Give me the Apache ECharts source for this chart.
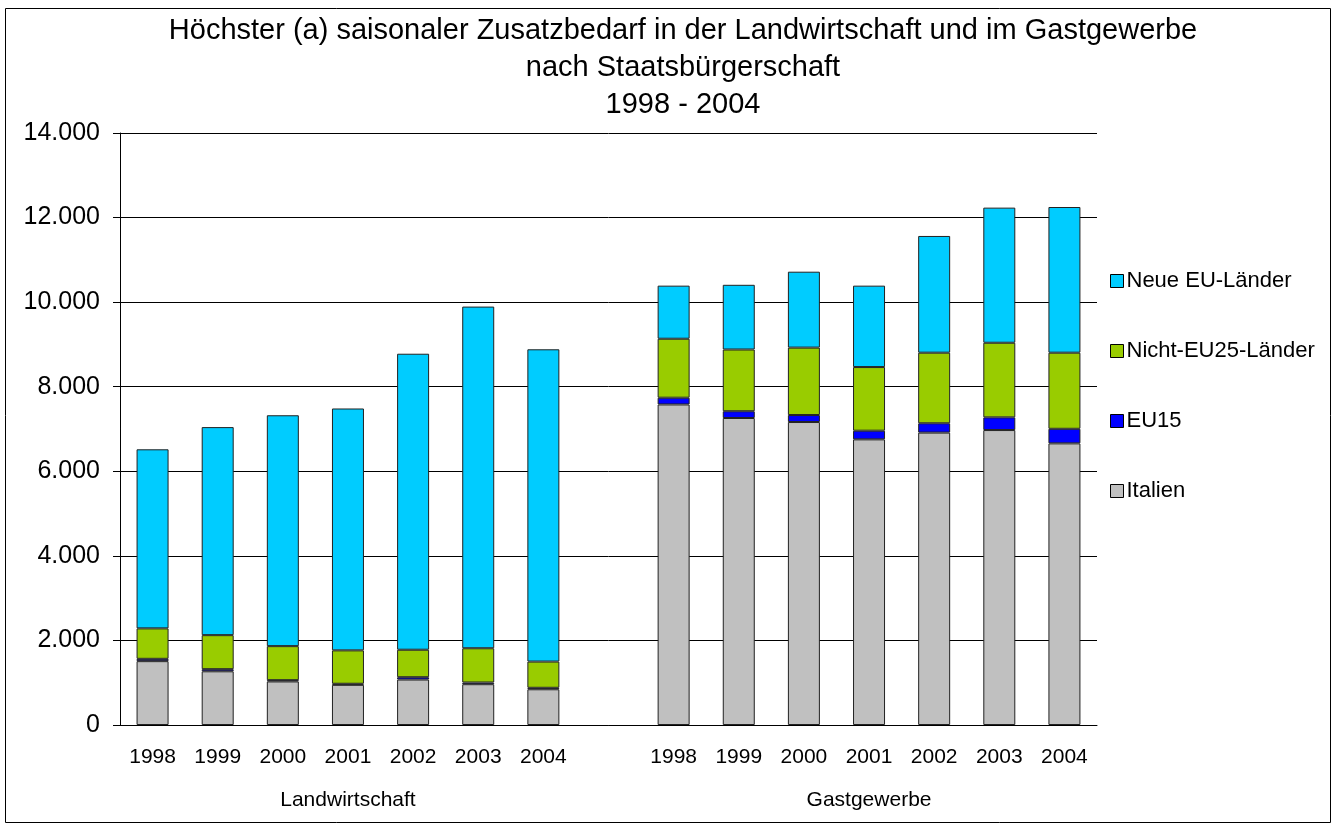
<!DOCTYPE html>
<html>
<head>
<meta charset="utf-8">
<script src="https://cdn.jsdelivr.net/npm/echarts@6/dist/echarts.min.js"></script>
<style>
html,body{margin:0;padding:0;background:#fff;}
#chart{width:1333px;height:825px;}
</style>
</head>
<body>
<div id="chart"></div>
<script>
var years = ['1998','1999','2000','2001','2002','2003','2004'];
var groups = ['Landwirtschaft','Gastgewerbe'];
var seriesNames = ['Italien','EU15','Nicht-EU25-Länder','Neue EU-Länder'];
var yTicks = [0,2000,4000,6000,8000,10000,12000,14000];

// Landwirtschaft
var landItalien = [1510,1270,1030,950,1075,965,845];
var landEU15    = [55,50,30,25,55,40,35];
var landNichtEU = [720,805,805,790,650,810,620];
var landNeueEU  = [4235,4920,5460,5720,7000,8080,7385];
// Gastgewerbe
var gastItalien = [7580,7260,7165,6755,6915,6975,6660];
var gastEU15    = [160,160,165,205,220,300,345];
var gastNichtEU = [1395,1460,1595,1505,1670,1765,1800];
var gastNeueEU  = [1255,1530,1795,1925,2760,3195,3445];

var colors = ['#C0C0C0','#0000FF','#99CC00','#00CCFF'];

var cats = years.concat(['']).concat(years);
var groupCats = cats.map(function(c,i){ return i===3 ? groups[0] : (i===11 ? groups[1] : ''); });
function join(a,b){ return a.concat(['-']).concat(b); }
var data = [
  join(landItalien,gastItalien),
  join(landEU15,gastEU15),
  join(landNichtEU,gastNichtEU),
  join(landNeueEU,gastNeueEU)
];

var font = 'Liberation Sans, Arial, sans-serif';
var chart = echarts.init(document.getElementById('chart'));
chart.setOption({
  animation:false,
  backgroundColor:'#fff',
  textStyle:{fontFamily:font,color:'#000'},
  title:{
    text:'Höchster (a) saisonaler Zusatzbedarf in der Landwirtschaft und im Gastgewerbe\nnach Staatsbürgerschaft\n1998 - 2004',
    left:678, top:7, textAlign:'center',
    textStyle:{fontFamily:font,fontSize:29,fontWeight:'normal',color:'#000',lineHeight:37}
  },
  graphic:[{type:'rect',shape:{x:5.5,y:8.5,width:1325,height:814},style:{fill:null,stroke:'#000',lineWidth:1},silent:true}],
  legend:{
    orient:'vertical', left:1110, top:270, padding:0, itemWidth:13, itemHeight:13, itemGap:48,
    data:['Neue EU-Länder','Nicht-EU25-Länder','EU15','Italien'],
    textStyle:{fontFamily:font,fontSize:22,color:'#000',lineHeight:22,padding:[0,0,0,-2]},
    icon:'rect',
    itemStyle:{borderColor:'#000',borderWidth:1}
  },
  grid:{left:120,right:236,top:133,bottom:100,containLabel:false},
  xAxis:[{
    type:'category', data:cats, position:'bottom',
    axisLine:{lineStyle:{color:'#000',width:1}},
    axisTick:{show:false},
    axisLabel:{interval:0,fontFamily:font,fontSize:21,color:'#000',margin:22}
  },{
    type:'category', data:groupCats, position:'bottom',
    axisLine:{show:false}, axisTick:{show:false},
    axisLabel:{interval:0,fontFamily:font,fontSize:21,color:'#000',margin:65}
  }],
  yAxis:{
    type:'value', min:0, max:14000, interval:2000,
    axisLine:{show:true,lineStyle:{color:'#000',width:1}},
    axisTick:{show:true,length:7,lineStyle:{color:'#000'}},
    splitLine:{show:true,lineStyle:{color:'#000',width:1}},
    axisLabel:{fontFamily:font,fontSize:25,color:'#000',margin:20,
      formatter:function(v){ return String(v).replace(/\B(?=(\d{3})+(?!\d))/g,'.'); }}
  },
  series:seriesNames.map(function(n,i){
    return {
      name:n, type:'bar', stack:'total', data:data[i], barWidth:32,
      itemStyle:{color:colors[i],borderColor:'#222',borderWidth:1}
    };
  })
});
</script>
</body>
</html>
